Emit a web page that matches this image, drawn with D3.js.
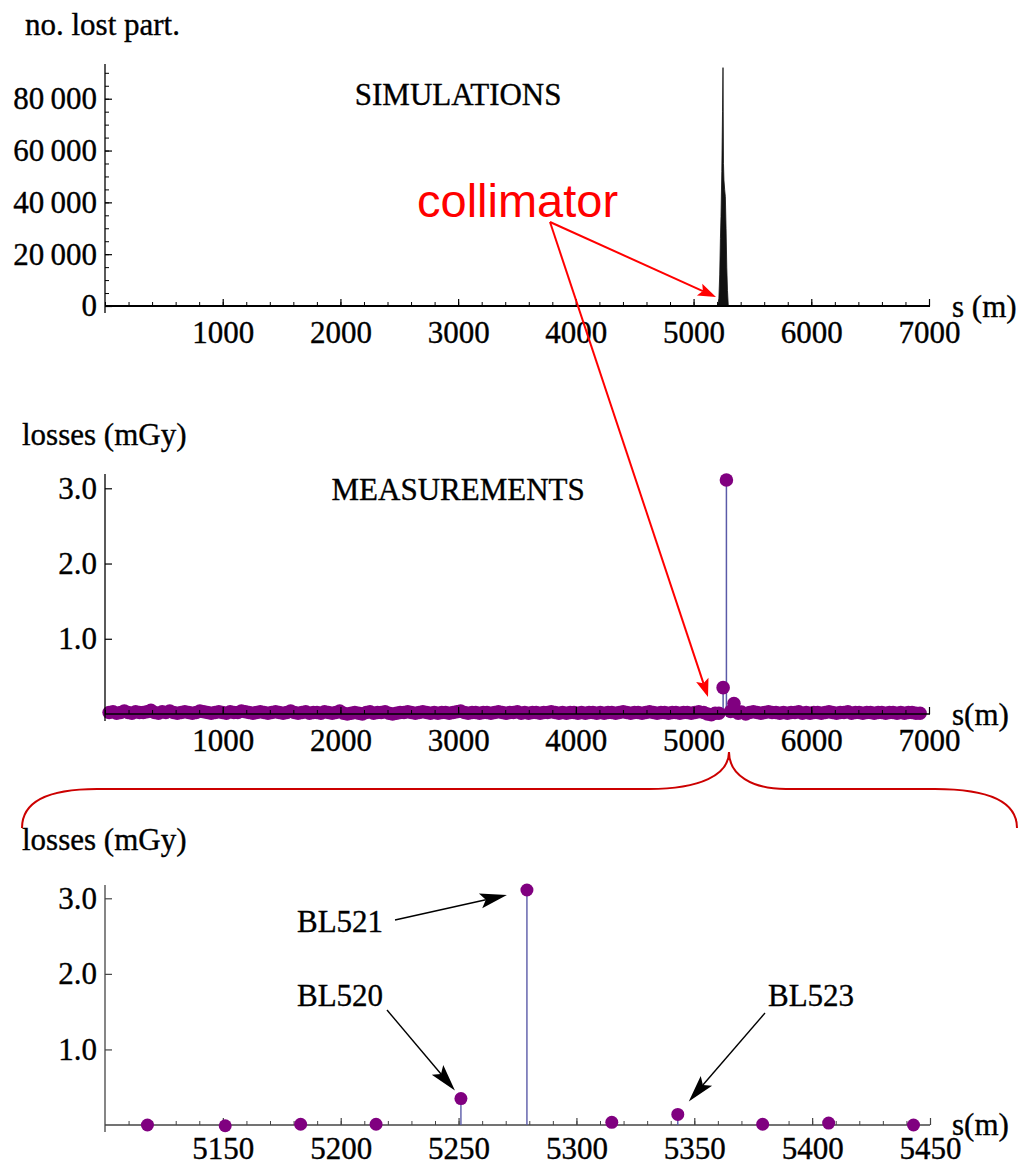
<!DOCTYPE html>
<html><head><meta charset="utf-8">
<script src="https://cdn.jsdelivr.net/npm/d3@7"></script>
<style>body{margin:0;background:#fff}</style>
</head><body><svg id="c" width="1019" height="1163"></svg>
<script>
// ---------------- DATA ----------------
// Simulation: number of lost particles vs s (m)
const simS = [5205, 5215, 5222, 5228, 5233, 5240, 5246, 5250, 5254, 5258, 5264, 5270, 5276, 5282, 5288, 5295];
const simN = [0, 3000, 12000, 26000, 34500, 52000, 75000, 92000, 55000, 48600, 45000, 42200, 30000, 15000, 6000, 0];

// Measurements: BLM positions (m) and losses (mGy)
const blmS = [
  35, 68, 99, 133, 164, 196, 229, 260, 293, 325,
  357, 390, 421, 454, 486, 517, 550, 582, 614, 647,
  678, 711, 742, 775, 806, 839, 871, 902, 935, 967,
  998, 1031, 1063, 1095, 1128, 1159, 1192, 1223, 1256, 1288,
  1319, 1352, 1384, 1416, 1449, 1480, 1513, 1544, 1577, 1609,
  1640, 1673, 1705, 1737, 1770, 1801, 1834, 1865, 1898, 1930,
  1961, 1994, 2026, 2058, 2091, 2122, 2155, 2186, 2219, 2251,
  2282, 2315, 2347, 2379, 2412, 2443, 2476, 2507, 2540, 2572,
  2603, 2636, 2668, 2700, 2733, 2764, 2797, 2828, 2861, 2893,
  2924, 2957, 2989, 3021, 3054, 3085, 3118, 3149, 3182, 3214,
  3245, 3278, 3310, 3342, 3375, 3406, 3439, 3470, 3503, 3535,
  3566, 3599, 3631, 3663, 3696, 3727, 3760, 3791, 3824, 3856,
  3887, 3920, 3952, 3984, 4017, 4048, 4081, 4112, 4145, 4177,
  4208, 4241, 4273, 4305, 4338, 4369, 4402, 4433, 4466, 4498,
  4529, 4562, 4594, 4626, 4659, 4690, 4723, 4754, 4787, 4819,
  4850, 4883, 4915, 4947, 4980, 5011, 5044, 5086,
  5118, 5151, 5183, 5215, 5251, 5279, 5315, 5343, 5379, 5407, 5443,
  5475, 5508, 5540, 5571, 5604, 5636, 5667, 5700, 5732, 5764,
  5797, 5828, 5861, 5893, 5924, 5957, 5989, 6021, 6054, 6085,
  6118, 6150, 6181, 6214, 6246, 6278, 6311, 6342, 6375, 6407,
  6438, 6471, 6503, 6535, 6568, 6599, 6632, 6664, 6695, 6728,
  6760, 6792, 6825, 6856, 6889, 6924
];
const blmLoss = [
  0.02,0.03,0.01,0.02,0.04,0.02,0.01,0.03,0.02,0.02,
  0.03,0.05,0.02,0.01,0.03,0.02,0.04,0.02,0.01,0.02,
  0.03,0.02,0.01,0.02,0.04,0.03,0.02,0.01,0.02,0.03,
  0.02,0.01,0.03,0.02,0.02,0.04,0.03,0.02,0.01,0.02,
  0.03,0.02,0.01,0.02,0.03,0.02,0.01,0.02,0.04,0.02,
  0.01,0.02,0.03,0.01,0.02,0.02,0.01,0.03,0.02,0.01,
  0.02,0.04,0.01,0.00,0.01,0.02,0.01,0.00,0.02,0.03,
  0.01,0.02,0.02,0.03,0.01,0.00,0.01,0.02,0.02,0.03,
  0.02,0.01,0.02,0.03,0.02,0.01,0.02,0.01,0.02,0.02,
  0.01,0.02,0.03,0.04,0.02,0.01,0.02,0.02,0.01,0.02,
  0.02,0.01,0.02,0.03,0.02,0.01,0.02,0.02,0.03,0.01,
  0.02,0.01,0.02,0.02,0.01,0.02,0.02,0.03,0.02,0.01,
  0.02,0.01,0.02,0.02,0.01,0.02,0.01,0.02,0.02,0.01,
  0.02,0.01,0.02,0.02,0.01,0.02,0.03,0.02,0.01,0.02,
  0.02,0.01,0.02,0.03,0.02,0.01,0.02,0.02,0.01,0.02,
  0.02,0.01,0.02,0.02,0.01,0.02,0.03,0.02,
  0.00,-0.01,0.01,0.01,0.35,3.11,0.035,0.14,0.01,0.025,0.00,
  0.02,0.03,0.02,0.01,0.02,0.03,0.02,0.02,0.01,0.02,
  0.01,0.02,0.02,0.03,0.01,0.02,0.01,0.02,0.02,0.01,
  0.02,0.03,0.02,0.01,0.02,0.02,0.03,0.01,0.02,0.02,
  0.01,0.02,0.02,0.01,0.02,0.02,0.01,0.02,0.02,0.01,
  0.02,0.01,0.02,0.02,0.01,0.01
];

// Tick values / labels
const fullXTicks = [1000, 2000, 3000, 4000, 5000, 6000, 7000];
const simYTicks = [0, 20000, 40000, 60000, 80000];
const simYLabels = ["0", "20\u2009000", "40\u2009000", "60\u2009000", "80\u2009000"];
const lossYTicks = [1, 2, 3];
const lossYLabels = ["1.0", "2.0", "3.0"];
const zoomXTicks = [5150, 5200, 5250, 5300, 5350, 5400, 5450];

// annotations
const blLabels = ["BL521", "BL520", "BL523"];
const blS = [5279, 5251, 5343];

// ---------------- DRAW ----------------
const svg = d3.select("#c");
const SERIF = "Liberation Serif, Times New Roman, serif";
const FS = 31;
const PURPLE = "#800080";
const STEM = "#5a5aa8";
const TXT_STROKE = 0.35;

function text(t, x, y, opts = {}) {
  const el = svg.append("text").text(t).attr("x", x).attr("y", y)
    .attr("font-family", opts.font || SERIF).attr("font-size", opts.size || FS)
    .attr("fill", opts.fill || "#000").attr("text-anchor", opts.anchor || "start");
  if (!opts.font) el.attr("stroke", "#000").attr("stroke-width", TXT_STROKE);
  return el;
}

function xAxis(x, y0, majors, minors, color, lw, pad) {
  const gmin = svg.append("g").attr("transform", `translate(0,${y0})`)
    .call(d3.axisBottom(x).tickValues(minors).tickSize(-4).tickFormat(""));
  gmin.select(".domain").remove();
  gmin.selectAll("line").attr("stroke", color).attr("stroke-width", 1);
  const g = svg.append("g").attr("transform", `translate(0,${y0})`)
    .call(d3.axisBottom(x).tickValues(majors).tickSize(-7).tickPadding(pad).tickFormat(d3.format("d")));
  g.select(".domain").remove();
  g.attr("font-family", SERIF).attr("font-size", FS);
  g.selectAll("line").attr("stroke", color).attr("stroke-width", 1.2);
  g.selectAll("text").attr("fill", "#000").attr("stroke", "#000").attr("stroke-width", TXT_STROKE);
  svg.append("line").attr("x1", x.range()[0]).attr("x2", 930).attr("y1", y0).attr("y2", y0)
    .attr("stroke", color).attr("stroke-width", lw);
}

function yAxis(y, x0, majors, labels, minors, color) {
  if (minors) {
    const gmin = svg.append("g").attr("transform", `translate(${x0},0)`)
      .call(d3.axisLeft(y).tickValues(minors).tickSize(-4).tickFormat(""));
    gmin.select(".domain").remove();
    gmin.selectAll("line").attr("stroke", color).attr("stroke-width", 1);
  }
  const g = svg.append("g").attr("transform", `translate(${x0},0)`)
    .call(d3.axisLeft(y).tickValues(majors).tickSize(-7).tickPadding(8)
      .tickFormat((d, i) => labels[i]));
  g.select(".domain").remove();
  g.attr("font-family", SERIF).attr("font-size", FS);
  g.selectAll("line").attr("stroke", color).attr("stroke-width", 1.2);
  g.selectAll("text").attr("fill", "#000").attr("stroke", "#000").attr("stroke-width", TXT_STROKE);
  svg.append("line").attr("x1", x0).attr("x2", x0).attr("y1", y.range()[1]).attr("y2", y.range()[0] + 7)
    .attr("stroke", color).attr("stroke-width", 1.3);
}

function arrow(x1, y1, x2, y2, color, lw, hl, hw) {
  const dx = x2 - x1, dy = y2 - y1, L = Math.hypot(dx, dy), ux = dx / L, uy = dy / L;
  const bx = x2 - ux * hl, by = y2 - uy * hl;
  const nx = x2 - ux * hl * 0.8, ny = y2 - uy * hl * 0.8;
  svg.append("line").attr("x1", x1).attr("y1", y1).attr("x2", nx).attr("y2", ny)
    .attr("stroke", color).attr("stroke-width", lw);
  svg.append("path")
    .attr("d", `M${x2},${y2}L${bx - uy * hw / 2},${by + ux * hw / 2}L${nx},${ny}L${bx + uy * hw / 2},${by - ux * hw / 2}Z`)
    .attr("fill", color);
}

// ----- Panel 1: simulations -----
const x1 = d3.scaleLinear([0, 7000], [105, 929]);
const y1 = d3.scaleLinear([0, 93400], [306, 64]);
const simData = simS.map((s, i) => ({ s, n: simN[i] }));
svg.append("path").datum(simData)
  .attr("d", d3.area().x(d => x1(d.s)).y0(y1(0)).y1(d => y1(d.n)))
  .attr("fill", "#111").attr("stroke", "#111").attr("stroke-width", 0.8);
xAxis(x1, 306, fullXTicks, d3.range(0, 7001, 200), "#000", 2, 15);
yAxis(y1, 105, simYTicks, simYLabels, d3.range(0, 93400, 5000), "#000");
text("no. lost part.", 25, 35);
text("SIMULATIONS", x1(3000), 105, { anchor: "middle" });
text("s (m)", 952, 317);

// ----- Panel 2: measurements -----
const x2 = d3.scaleLinear([0, 7000], [105, 929]);
const y2 = d3.scaleLinear([0, 3.19], [714, 474]);
const meas = blmS.map((s, i) => ({ s, v: blmLoss[i] }));
svg.append("g").selectAll("line").data(meas.filter(d => d.v > 0.1)).join("line")
  .attr("x1", d => x2(d.s)).attr("x2", d => x2(d.s))
  .attr("y1", d => y2(d.v)).attr("y2", y2(0))
  .attr("stroke", STEM).attr("stroke-width", 1.5);
svg.append("g").selectAll("circle").data(meas).join("circle")
  .attr("cx", d => x2(d.s)).attr("cy", d => y2(d.v)).attr("r", 6.8).attr("fill", PURPLE);
xAxis(x2, 714, fullXTicks, d3.range(0, 7001, 200), "#000", 1.5, 15);
yAxis(y2, 105, lossYTicks, lossYLabels, null, "#000");
text("losses (mGy)", 22, 445);
text("MEASUREMENTS", x2(3000), 500, { anchor: "middle" });
text("s(m)", 952, 725);

// ----- Panel 3: zoom -----
const x3 = d3.scaleLinear([5100, 5450], [105, 930]);
const y3 = d3.scaleLinear([0, 3.176], [1125, 885]);
const zoomed = meas.filter(d => d.s > 5100 && d.s < 5450);
xAxis(x3, 1125, zoomXTicks, d3.range(5110, 5451, 10), "#444", 1.4, 12);
yAxis(y3, 105, lossYTicks, lossYLabels, null, "#444");
svg.append("g").selectAll("line").data(zoomed.filter(d => d.v > 0.05)).join("line")
  .attr("x1", d => x3(d.s)).attr("x2", d => x3(d.s))
  .attr("y1", d => y3(d.v)).attr("y2", y3(0))
  .attr("stroke", STEM).attr("stroke-width", 1.4);
svg.append("g").selectAll("circle").data(zoomed).join("circle")
  .attr("cx", d => x3(d.s)).attr("cy", d => y3(d.v)).attr("r", 6.5).attr("fill", PURPLE);
text("losses (mGy)", 22, 850);
text("s(m)", 952, 1135);

// BL annotations
const v521 = blmLoss[blmS.indexOf(blS[0])], v520 = blmLoss[blmS.indexOf(blS[1])], v523 = blmLoss[blmS.indexOf(blS[2])];
text(blLabels[0], 297, 932);
arrow(395, 920, x3(blS[0]) - 20, y3(v521) + 5, "#000", 1.4, 27, 15);
text(blLabels[1], 297, 1006);
arrow(387, 1010, x3(blS[1]) - 6, y3(v520) - 8, "#000", 1.4, 27, 15);
text(blLabels[2], 768, 1006);
arrow(765, 1013, x3(blS[2]) + 11, y3(v523) - 13, "#000", 1.4, 27, 15);

// collimator annotation
text("collimator", 417, 217, { font: "Liberation Sans, Arial, sans-serif", size: 47, fill: "#ff0000" });
arrow(550, 222, 716, 297, "#ff0000", 2, 18, 13);
arrow(550, 222, 708, 697, "#ff0000", 2, 18, 13);

// curly bracket from the measurement plot to the zoom
svg.append("path")
  .attr("d", "M22,828 C22,800 50,789 97,789 L649,789 C700,789 729,775 729,752 C729,775 752,789 786,789 L935,789 C985,789 1017,800 1017,828")
  .attr("fill", "none").attr("stroke", "#cc0000").attr("stroke-width", 2);
</script>
</body></html>
